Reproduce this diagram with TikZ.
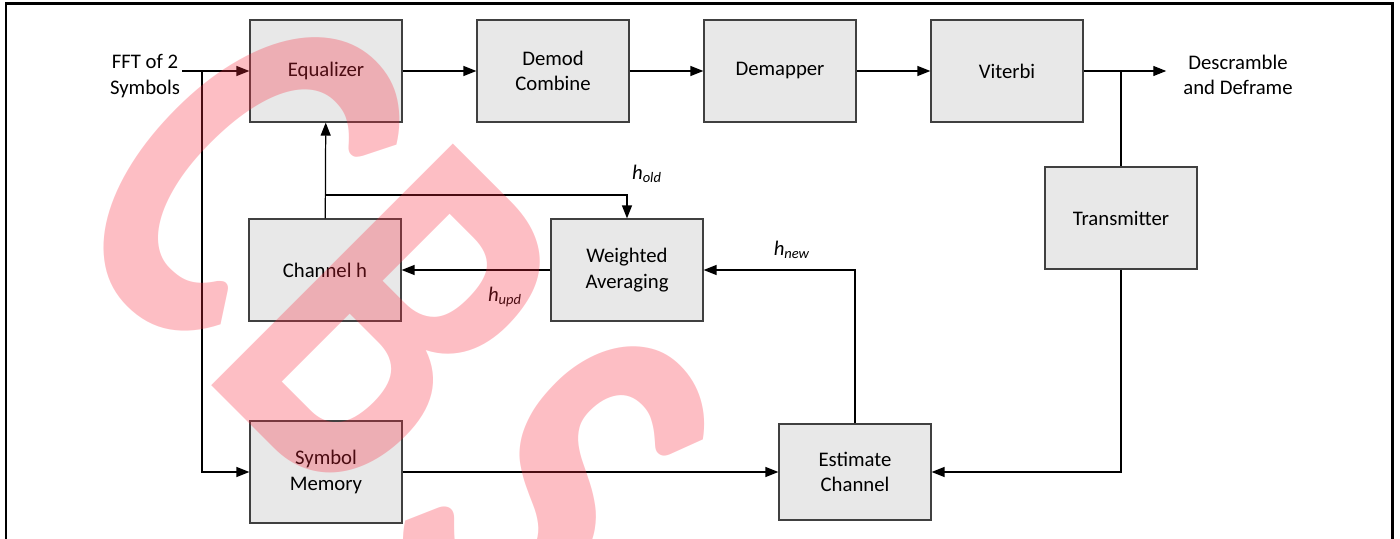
\documentclass[tikz,border=0pt]{standalone}
\usepackage{fontspec}
\setmainfont{Carlito}
\usetikzlibrary{arrows.meta}
\definecolor{wmred}{RGB}{250,40,60}
\newcommand{\hsub}[1]{\textit{h}\textsubscript{\textit{#1}}}

\begin{document}
\begin{tikzpicture}[x=0.02cm,y=-0.02cm,
    blk/.style={draw=black!75,fill=black!9,line width=0.7pt,minimum width=3.04cm,
      minimum height=2.04cm,align=center,font=\fontsize{11.8}{14.6}\selectfont},
    lbl/.style={align=center,inner sep=1pt,font=\fontsize{11.8}{14.6}\selectfont},
    arr/.style={-{Triangle[length=0.26cm,width=0.2cm]},line width=0.7pt},
    wire/.style={line width=0.7pt}]
    \useasboundingbox (0,0) rectangle (1400,538);
    \draw[line width=0.06cm] (6,545) -- (6,3) -- (1392,3) -- (1392,545);
    % receiver chain
    \node[blk] (eq) at (326,71) {Equalizer};
    \node[blk] (dem) at (553,71) {Demod\\Combine};
    \node[blk] (dmap) at (780,71) {Demapper};
    \node[blk] (vit) at (1007,71) {Viterbi};
    \node[blk] (tx) at (1121,218) {Transmitter};
    \node[blk] (chan) at (325,270) {Channel h};
    \node[blk] (wavg) at (627,270) {Weighted\\Averaging};
    \node[blk] (smem) at (326,472) {Symbol\\Memory};
    \node[blk,minimum height=1.92cm] (est) at (855,472) {Estimate\\Channel};
    \node[lbl] (fft) at (145,76) {FFT of 2\\Symbols};
    \node[lbl] (out) at (1238,75) {Descramble\\and Deframe};
    \node[lbl] (hold) at (647,174) {\hsub{old}};
    \node[lbl] (hupd) at (505,297) {\hsub{upd}};
    \node[lbl] (hnew) at (792,250) {\hsub{new}};
    \coordinate (split) at (202,71);
    \coordinate (tee) at (tx |- vit);
    \coordinate (br) at (325,195);
    % connectors
    \draw[arr] (fft.east |- eq) -- (eq);
    \draw[arr] (split) |- (smem);
    \draw[arr] (eq) -- (dem);
    \draw[arr] (dem) -- (dmap);
    \draw[arr] (dmap) -- (vit);
    \draw[arr] (vit) -- ([xshift=-0.3cm]out.west |- vit);
    \draw[wire] (tee) -- (tx);
    \draw[arr] (tx) |- (est);
    \draw[arr] (smem) -- (est);
    \draw[arr] (est) |- (wavg);
    \draw[arr] (wavg) -- (chan);
    \draw[arr] (chan) -- (eq);
    \draw[arr] (br) -| (wavg);
    % watermark
    \begin{scope}
      \clip (0,0) rectangle (1400,538);
      \node[rotate=-45,xscale=0.7,anchor=base west,inner sep=0,text=wmred,text opacity=0.3,
        font=\fontsize{300}{300}\selectfont\bfseries] (wmark) at (50,224) {C\kern10pt B\kern32pt S};
    \end{scope}
\end{tikzpicture}
\end{document}
